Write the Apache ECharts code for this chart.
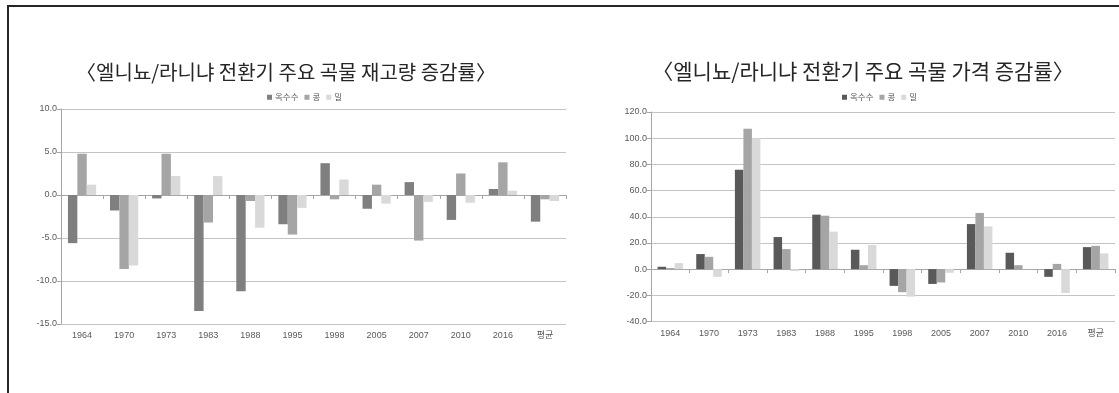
<!DOCTYPE html>
<html>
<head>
<meta charset="utf-8">
<script src="https://cdn.jsdelivr.net/npm/echarts@6/dist/echarts.min.js"></script>
<style>
  html, body { margin: 0; padding: 0; background: #fff; }
  #wrap { position: relative; width: 1119px; height: 393px; overflow: hidden; }
  #chart { position: absolute; left: 0; top: 0; width: 1119px; height: 393px; }
  .rule { position: absolute; background: #262626; pointer-events: none; }
  #ruleTop { left: 7px; top: 5px; width: 1112px; height: 2px; }
  #ruleLeft { left: 7px; top: 5px; width: 2px; height: 388px; }
</style>
</head>
<body>
<div id="wrap">
  <div id="chart"></div>
  <div class="rule" id="ruleTop"></div>
  <div class="rule" id="ruleLeft"></div>
</div>
<script>
// Event years (plus the average column)
const years = ['1964', '1970', '1973', '1983', '1988', '1995', '1998', '2005', '2007', '2010', '2016', '평균'];
const seriesNames = ['옥수수', '콩', '밀'];

// Stock change rate (%)
const stockCorn  = [-5.6, -1.8, -0.4, -13.5, -11.2, -3.4, 3.7, -1.6, 1.5, -2.9, 0.7, -3.1];
const stockSoy   = [4.8, -8.6, 4.8, -3.2, -0.7, -4.6, -0.5, 1.2, -5.3, 2.5, 3.8, -0.5];
const stockWheat = [1.2, -8.2, 2.2, 2.2, -3.8, -1.5, 1.8, -1.0, -0.8, -0.9, 0.5, -0.7];

// Price change rate (%)
const priceCorn  = [1.8, 11.5, 75.8, 24.5, 41.6, 14.8, -12.8, -11.3, 34.4, 12.5, -5.9, 16.8];
const priceSoy   = [0.8, 9.4, 107.2, 15.3, 40.8, 3.0, -17.6, -10.2, 42.9, 3.0, 4.0, 17.8];
const priceWheat = [4.6, -5.9, 100.0, -1.5, 28.6, 18.4, -21.0, -2.8, 32.6, 0.2, -18.2, 12.0];

const titleLeft = '〈엘니뇨/라니냐 전환기 주요 곡물 재고량 증감률〉';
const titleRight = '〈엘니뇨/라니냐 전환기 주요 곡물 가격 증감률〉';

const CJK = '"Noto Sans CJK KR", "Noto Sans", sans-serif';
const NUM = '"Liberation Sans Narrow", "Liberation Sans", "Noto Sans CJK KR", sans-serif';
const gridColor = '#c4c4c4';
const axisColor = '#a6a6a6';
const textColor = '#595959';

const leftColors = ['#7f7f7f', '#a5a5a5', '#d9d9d9'];
const rightColors = ['#595959', '#a5a5a5', '#d9d9d9'];

function valueAxis(gridIndex, min, max, interval) {
  return {
    type: 'value', gridIndex, min, max, interval,
    axisLine: { show: true, lineStyle: { color: axisColor, width: 1 } },
    axisTick: { show: true, length: 4, lineStyle: { color: axisColor } },
    axisLabel: { formatter: v => v.toFixed(1), fontSize: 9, color: textColor, fontFamily: NUM, margin: 4 },
    splitLine: { show: true, lineStyle: { color: gridColor, width: 1 } }
  };
}

// Category labels sit along the bottom edge of the plot
function labelAxis(gridIndex, margin) {
  return {
    type: 'category', gridIndex, data: years, position: 'bottom',
    axisLine: { show: false, onZero: false }, axisTick: { show: false },
    axisLabel: { fontSize: 9, color: textColor, fontFamily: NUM, margin, interval: 0 }
  };
}

// Axis line with boundary ticks drawn at the zero value
function zeroAxis(gridIndex) {
  return {
    type: 'category', gridIndex, data: years, position: 'top',
    axisLine: { show: true, onZero: true, lineStyle: { color: axisColor, width: 1 } },
    axisTick: { show: true, inside: true, length: 4, interval: 0, lineStyle: { color: axisColor } },
    axisLabel: { show: false }
  };
}

function bars(xi, yi, data, colors, gap) {
  return data.map((d, i) => ({
    type: 'bar', name: seriesNames[i], xAxisIndex: xi, yAxisIndex: yi, data: d,
    barGap: '0%', barCategoryGap: gap,
    itemStyle: { color: colors[i] }
  }));
}

const legendCommon = {
  itemWidth: 5, itemHeight: 5, itemGap: 6, icon: 'rect',
  textStyle: { fontSize: 8.5, color: textColor, fontFamily: CJK, padding: [0, 0, 0, -2] }
};

const titleStyle = size => ({ fontSize: size, fontWeight: 'normal', color: '#262626', fontFamily: CJK });

const chart = echarts.init(document.getElementById('chart'), null, { renderer: 'canvas' });
chart.setOption({
  animation: false,
  title: [
    { text: titleLeft, left: 281, top: 57, textAlign: 'center', textStyle: titleStyle(20) },
    { text: titleRight, left: 858, top: 56, textAlign: 'center', textStyle: titleStyle(21) }
  ],
  legend: [
    Object.assign({ left: 262, top: 88 }, legendCommon,
      { data: seriesNames.map((n, i) => ({ name: n, itemStyle: { color: leftColors[i] } })) }),
    Object.assign({ left: 837, top: 88 }, legendCommon,
      { data: seriesNames.map((n, i) => ({ name: n, itemStyle: { color: rightColors[i] } })) })
  ],
  grid: [
    { left: 61, right: 553, top: 109, bottom: 69 },
    { left: 651, right: 4, top: 112, bottom: 71.5 }
  ],
  xAxis: [labelAxis(0, 7), zeroAxis(0), labelAxis(1, 8), zeroAxis(1)],
  yAxis: [valueAxis(0, -15, 10, 5), valueAxis(1, -40, 120, 20)],
  series: [
    ...bars(0, 0, [stockCorn, stockSoy, stockWheat], leftColors, '33%'),
    ...bars(2, 1, [priceCorn, priceSoy, priceWheat], rightColors, '34%')
  ]
});
</script>
</body>
</html>
